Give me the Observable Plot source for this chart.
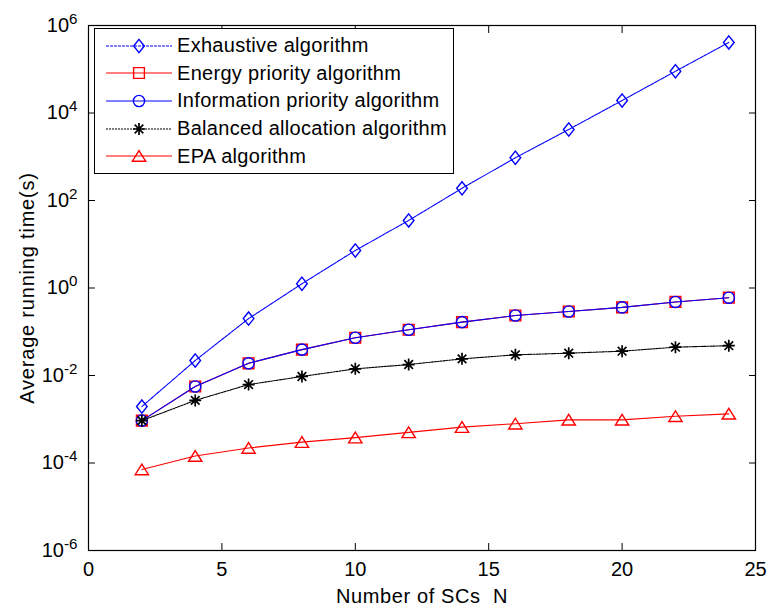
<!DOCTYPE html>
<html>
<head>
<meta charset="utf-8">
<script src="https://cdn.jsdelivr.net/npm/d3@7"></script>
<script src="https://cdn.jsdelivr.net/npm/@observablehq/plot@0.6"></script>
<style>
  html, body { margin: 0; padding: 0; background: #fff; }
  #wrap { position: relative; width: 767px; height: 605px; font-family: "Liberation Sans", Arial, sans-serif; }
  #legend { position: absolute; left: 94px; top: 28px; width: 360px; height: 146px; box-sizing: border-box;
            border: 1.3px solid #000; background: #fff; }
  .row { position: absolute; left: 0; height: 26px; display: flex; align-items: center; }
  .row span { font-size: 20px; letter-spacing: 0.3px; color: #000; white-space: nowrap; margin-left: 2px; }
</style>
</head>
<body>
<div id="wrap"></div>
<script>
// ---- data ----
const N = [2, 4, 6, 8, 10, 12, 14, 16, 18, 20, 22, 24];
const exhaustive  = [1.95e-3, 0.022, 0.2, 1.25, 7.2, 35, 190, 950, 4200, 19300, 90000, 410000];
const energy      = [9.3e-4, 5.6e-3, 0.019, 0.039, 0.073, 0.111, 0.166, 0.235, 0.29, 0.36, 0.48, 0.6];
const information = [9.3e-4, 5.6e-3, 0.019, 0.039, 0.073, 0.111, 0.166, 0.235, 0.29, 0.36, 0.48, 0.6];
const balanced    = [9.3e-4, 2.7e-3, 6.2e-3, 9.5e-3, 0.0142, 0.0178, 0.024, 0.0297, 0.0324, 0.036, 0.0444, 0.048];
const epa         = [7.1e-5, 1.44e-4, 2.2e-4, 3.0e-4, 3.8e-4, 5.0e-4, 6.6e-4, 7.9e-4, 9.7e-4, 9.7e-4, 1.17e-3, 1.33e-3];
const seriesNames = ["Exhaustive algorithm", "Energy priority algorithm", "Information priority algorithm",
                     "Balanced allocation algorithm", "EPA algorithm"];
const xTicks = [0, 5, 10, 15, 20, 25];
const yTicks = [1e-6, 1e-4, 1e-2, 1e0, 1e2, 1e4, 1e6];

// ---- marker shapes (MATLAB-like) ----
const symDiamond = {draw(c, s) { const r = Math.sqrt(s / Math.PI); const w = r * 0.95, h = r * 1.18;
  c.moveTo(0, -h); c.lineTo(w, 0); c.lineTo(0, h); c.lineTo(-w, 0); c.closePath(); }};
const symSquare = {draw(c, s) { const r = Math.sqrt(s / Math.PI); c.rect(-r, -r, 2 * r, 2 * r); }};
const symCircle = {draw(c, s) { const r = Math.sqrt(s / Math.PI); c.moveTo(r, 0); c.arc(0, 0, r, 0, 2 * Math.PI); }};
const symStar = {draw(c, s) { const r = Math.sqrt(s / Math.PI); const d = r * 0.72;
  c.moveTo(0, -r); c.lineTo(0, r); c.moveTo(-r, 0); c.lineTo(r, 0);
  c.moveTo(-d, -d); c.lineTo(d, d); c.moveTo(-d, d); c.lineTo(d, -d); }};
const symTriangle = {draw(c, s) { const r = Math.sqrt(s / Math.PI); const w = r * 1.15, h = r * 0.9;
  c.moveTo(0, -h * 1.05); c.lineTo(w, h); c.lineTo(-w, h); c.closePath(); }};

const series = [
  {name: seriesNames[0], values: exhaustive,  color: "#0000ff", dash: "3,1", symbol: symDiamond,  r: 5.6, sw: 1.4},
  {name: seriesNames[1], values: energy,      color: "#ff0000", dash: null,  symbol: symSquare,   r: 5.4, sw: 1.4},
  {name: seriesNames[2], values: information, color: "#0000ff", dash: null,  symbol: symCircle,   r: 5.6, sw: 1.4},
  {name: seriesNames[3], values: balanced,    color: "#000000", dash: "2,1", symbol: symStar,     r: 6.0, sw: 1.7},
  {name: seriesNames[4], values: epa,         color: "#ff0000", dash: null,  symbol: symTriangle, r: 5.8, sw: 1.4}
];

const marks = [];
for (const s of series) {
  const data = N.map((n, i) => ({n, v: s.values[i]}));
  marks.push(Plot.line(data, {x: "n", y: "v", stroke: s.color, strokeWidth: 1.1, strokeDasharray: s.dash || undefined}));
  marks.push(Plot.dot(data, {x: "n", y: "v", stroke: s.color, strokeWidth: s.sw, fill: "none", symbol: s.symbol, r: s.r}));
}

const chart = Plot.plot({
  width: 767, height: 605,
  marginLeft: 88, marginRight: 12, marginTop: 25, marginBottom: 55,
  style: {fontFamily: "'Liberation Sans', Arial, sans-serif", fontSize: "20px", color: "#000", background: "#fff"},
  x: {domain: [0, 25]},
  y: {type: "log", domain: [1e-6, 1e6]},
  marks: [
    ...marks,
    Plot.frame({stroke: "#000", strokeWidth: 1.2}),
    // inward ticks on all four sides
    Plot.axisX(xTicks, {anchor: "bottom", tickSize: -7, tickFormat: () => "", label: null}),
    Plot.axisX(xTicks, {anchor: "top", tickSize: -7, tickFormat: () => "", label: null}),
    Plot.axisY(yTicks, {anchor: "left", tickSize: -7, tickFormat: () => "", label: null}),
    Plot.axisY(yTicks, {anchor: "right", tickSize: -7, tickFormat: () => "", label: null}),
    // labels
    Plot.axisX(xTicks, {anchor: "bottom", tickSize: 0, tickPadding: 11, tickFormat: d => String(d),
      label: "Number of SCs\u00a0 N", labelAnchor: "center", labelArrow: "none", labelOffset: 52}),
    Plot.axisY(yTicks, {anchor: "left", tickSize: 0, tickPadding: 11,
      tickFormat: d => "10^" + Math.round(Math.log10(d)),
      label: "Average running time(s)", labelAnchor: "center", labelArrow: "none", labelOffset: 69})
  ]
});

// superscript exponents on y tick labels
d3.select(chart).selectAll('g[aria-label="y-axis tick label"] text').each(function() {
  const t = this.textContent;
  if (!t.includes("^")) return;
  const [base, exp] = t.split("^");
  const sel = d3.select(this);
  sel.text(null);
  sel.append("tspan").text(base);
  sel.append("tspan").attr("dy", "-0.55em").attr("font-size", "0.76em").text(exp);
});
d3.select(chart).selectAll('g[aria-label="x-axis label"] text').style("letter-spacing", "0.6px");
d3.select(chart).selectAll('g[aria-label="y-axis label"] text').style("letter-spacing", "0.8px");

document.getElementById("wrap").appendChild(chart);

// ---- legend (HTML overlay) ----
const legend = document.createElement("div");
legend.id = "legend";
series.forEach((s, i) => {
  const row = document.createElement("div");
  row.className = "row";
  row.style.top = (3.5 + i * 27.7) + "px";
  const svg = d3.create("svg").attr("width", 80).attr("height", 26);
  svg.append("line").attr("x1", 11).attr("x2", 77).attr("y1", 13).attr("y2", 13)
    .attr("stroke", s.color).attr("stroke-width", 1.1).attr("stroke-dasharray", s.dash);
  svg.append("path").attr("transform", "translate(44,13)")
    .attr("d", d3.symbol(s.symbol, s.r * s.r * Math.PI)())
    .attr("fill", "none").attr("stroke", s.color).attr("stroke-width", s.sw);
  row.appendChild(svg.node());
  const label = document.createElement("span");
  label.textContent = s.name;
  row.appendChild(label);
  legend.appendChild(row);
});
document.getElementById("wrap").appendChild(legend);
</script>
</body>
</html>
